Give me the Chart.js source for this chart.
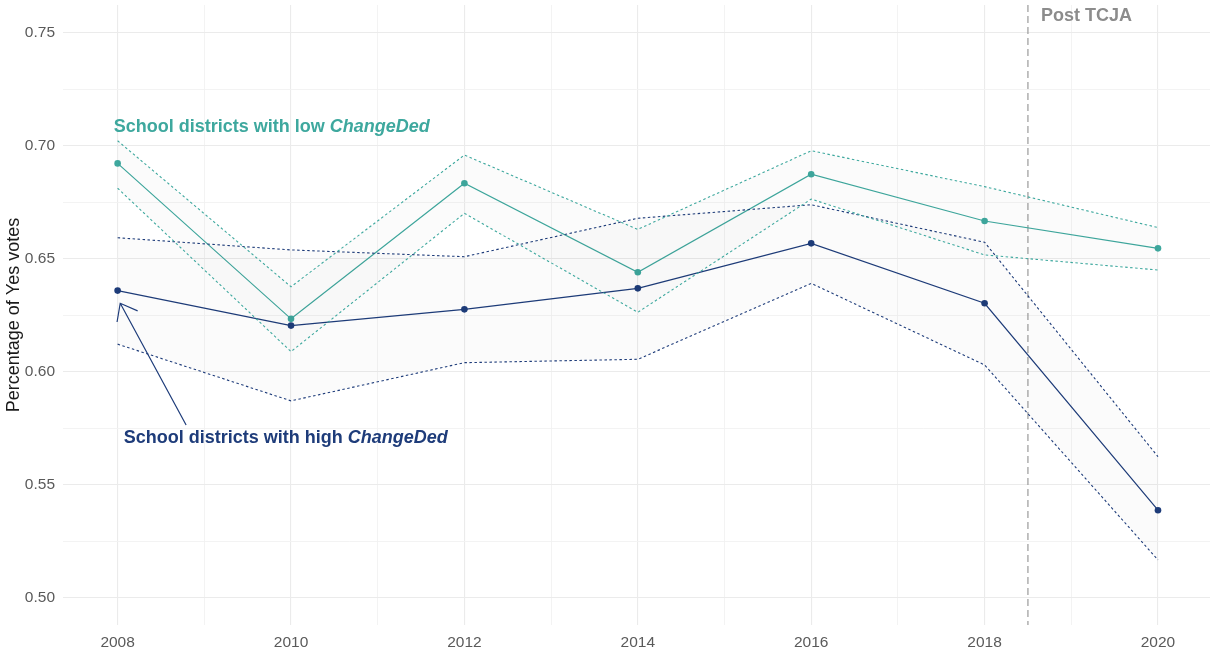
<!DOCTYPE html>
<html>
<head>
<meta charset="utf-8">
<script src="https://cdn.jsdelivr.net/npm/chart.js@4.4.1/dist/chart.umd.min.js"></script>
<style>
  html, body { margin: 0; padding: 0; background: #ffffff; }
  #wrap { width: 1210px; height: 653px; position: relative; }
</style>
</head>
<body>
<div id="wrap"><canvas id="c" width="1210" height="653"></canvas></div>
<script>
// ---- data ----
const years = [2008, 2010, 2012, 2014, 2016, 2018, 2020];
const lowMean  = [0.6923, 0.6235, 0.6835, 0.6441, 0.6875, 0.6668, 0.6547];
const lowUpper = [0.7023, 0.6377, 0.6960, 0.6631, 0.6979, 0.6820, 0.6639];
const lowLower = [0.6813, 0.6090, 0.6702, 0.6264, 0.6765, 0.6518, 0.6451];
const highMean  = [0.6360, 0.6205, 0.6277, 0.6370, 0.6569, 0.6304, 0.5388];
const highUpper = [0.6594, 0.6540, 0.6510, 0.6680, 0.6740, 0.6574, 0.5625];
const highLower = [0.6123, 0.5872, 0.6041, 0.6056, 0.6392, 0.6031, 0.5168];
const xTickValues = [2008, 2009, 2010, 2011, 2012, 2013, 2014, 2015, 2016, 2017, 2018, 2019, 2020];
const yTickValues = [0.500, 0.525, 0.550, 0.575, 0.600, 0.625, 0.650, 0.675, 0.700, 0.725, 0.750];
const tcjaYear = 2018.5;
const lowLabel = ["School districts with low ", "ChangeDed"];
const highLabel = ["School districts with high ", "ChangeDed"];
const tcjaLabel = "Post TCJA";
const yTitle = "Percentage of Yes votes";

// ---- styles ----
const TEAL = '#3ea89e';
const NAVY = '#1e3c7a';
const RIBBON = 'rgba(0,0,0,0.015)';
const FONT = '"Liberation Sans", Arial, sans-serif';

const pts = arr => years.map((y, i) => ({ x: y, y: arr[i] }));

function bound(arr, color, fill) {
  return {
    data: pts(arr), borderColor: color, borderWidth: 1.1, borderDash: [2.5, 2.5],
    pointRadius: 0, fill: fill, backgroundColor: RIBBON, tension: 0
  };
}
function mean(arr, color) {
  return {
    data: pts(arr), borderColor: color, borderWidth: 1.2, pointRadius: 3.3,
    pointBackgroundColor: color, pointBorderWidth: 0, fill: false, tension: 0
  };
}

const annot = {
  id: 'annot',
  beforeDatasetsDraw(chart) {
    const { ctx, chartArea, scales: { x } } = chart;
    const px = x.getPixelForValue(tcjaYear);
    ctx.save();
    ctx.strokeStyle = '#9a9a9a';
    ctx.lineWidth = 1.2;
    ctx.setLineDash([7, 4]);
    ctx.beginPath();
    ctx.moveTo(px, chartArea.top);
    ctx.lineTo(px, chartArea.bottom);
    ctx.stroke();
    ctx.restore();
  },
  afterDatasetsDraw(chart) {
    const { ctx, scales: { x, y } } = chart;
    ctx.save();
    function twoPart(parts, xv, yv, color) {
      const px = x.getPixelForValue(xv), py = y.getPixelForValue(yv);
      ctx.fillStyle = color;
      ctx.textBaseline = 'middle';
      ctx.textAlign = 'left';
      ctx.font = 'bold 18px ' + FONT;
      ctx.fillText(parts[0], px, py);
      const w = ctx.measureText(parts[0]).width;
      ctx.font = 'italic bold 18px ' + FONT;
      ctx.fillText(parts[1], px + w, py);
    }
    twoPart(lowLabel, 2007.955, 0.7082, TEAL);
    twoPart(highLabel, 2008.07, 0.5708, NAVY);

    ctx.font = 'bold 18px ' + FONT;
    ctx.fillStyle = '#8c8c8c';
    ctx.textBaseline = 'middle';
    ctx.fillText(tcjaLabel, x.getPixelForValue(2018.65), y.getPixelForValue(0.7575));

    // arrow
    const tx = x.getPixelForValue(2008.03), ty = y.getPixelForValue(0.6304);
    const sx = x.getPixelForValue(2008.79), sy = y.getPixelForValue(0.5765);
    ctx.strokeStyle = NAVY;
    ctx.lineWidth = 1.2;
    ctx.beginPath();
    ctx.moveTo(sx, sy); ctx.lineTo(tx, ty);
    const ang = Math.atan2(sy - ty, sx - tx);
    const L = 19, A = 38 * Math.PI / 180;
    ctx.moveTo(tx + L * Math.cos(ang - A), ty + L * Math.sin(ang - A));
    ctx.lineTo(tx, ty);
    ctx.lineTo(tx + L * Math.cos(ang + A), ty + L * Math.sin(ang + A));
    ctx.stroke();
    ctx.restore();
  }
};

new Chart(document.getElementById('c'), {
  type: 'line',
  data: {
    datasets: [
      bound(lowUpper, TEAL, false),
      bound(lowLower, TEAL, '-1'),
      bound(highUpper, NAVY, false),
      bound(highLower, NAVY, '-1'),
      mean(lowMean, TEAL),
      mean(highMean, NAVY)
    ]
  },
  options: {
    responsive: false,
    animation: false,
    devicePixelRatio: 1,
    layout: { autoPadding: false, padding: { top: 5, right: 0, left: 0, bottom: 0 } },
    plugins: { legend: { display: false }, tooltip: { enabled: false } },
    scales: {
      x: {
        type: 'linear', min: 2007.37, max: 2020.6,
        afterBuildTicks: s => { s.ticks = xTickValues.map(v => ({ value: v })); },
        afterFit: s => { s.height = 28; s.paddingLeft = 0; s.paddingRight = 0; },
        border: { display: false },
        grid: {
          drawTicks: false,
          color: c => (c.tick && c.tick.value % 2 === 0) ? '#ebebeb' : '#f2f2f2',
          lineWidth: c => (c.tick && c.tick.value % 2 === 0) ? 1.1 : 0.9
        },
        ticks: {
          autoSkip: false, maxRotation: 0, padding: 8,
          color: '#5a5a5a', font: { family: FONT, size: 15.5 },
          callback: v => (v % 2 === 0 ? String(v) : '')
        }
      },
      y: {
        min: 0.488, max: 0.7624,
        afterBuildTicks: s => { s.ticks = yTickValues.map(v => ({ value: v })); },
        afterFit: s => { s.width = 63; s.paddingTop = 0; s.paddingBottom = 0; },
        border: { display: false },
        grid: {
          drawTicks: false,
          color: c => (c.tick && Math.round(c.tick.value * 1000) % 50 === 0) ? '#ebebeb' : '#f2f2f2',
          lineWidth: c => (c.tick && Math.round(c.tick.value * 1000) % 50 === 0) ? 1.1 : 0.9
        },
        ticks: {
          autoSkip: false, padding: 8,
          color: '#5a5a5a', font: { family: FONT, size: 15.5 },
          callback: v => (Math.round(v * 1000) % 50 === 0 ? v.toFixed(2) : '')
        },
        title: {
          display: true, text: yTitle, color: '#1a1a1a',
          font: { family: FONT, size: 18 }, padding: { top: 3, bottom: 0 }
        }
      }
    }
  },
  plugins: [annot]
});
</script>
</body>
</html>
